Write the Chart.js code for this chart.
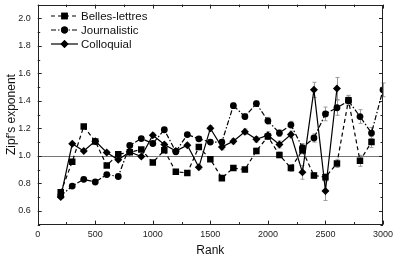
<!DOCTYPE html>
<html>
<head>
<meta charset="utf-8">
<script src="https://cdn.jsdelivr.net/npm/chart.js@4.4.1/dist/chart.umd.min.js"></script>
<style>
  html, body { margin: 0; padding: 0; background: #fff; }
  canvas { display: block; }
</style>
</head>
<body>
<canvas id="zipf" width="393" height="254"></canvas>
<script>
/* Zipf's exponent vs rank, three text styles */

const ranks = [200, 300, 400, 500, 600, 700, 800, 900, 1000, 1100, 1200, 1300, 1400, 1500, 1600,
  1700, 1800, 1900, 2000, 2100, 2200, 2300, 2400, 2500, 2600, 2700, 2800, 2900, 3000];

const bellesLettres = [0.735, 0.957, 1.214, 1.105, 0.93, 1.012, 1.026, 1.046, 0.952, 1.04, 0.885, 0.876, 1.065, 0.976, 0.838,
  0.912, 0.9, 1.036, 1.14, 1.007, 0.912, 1.04, 0.857, 0.845, 0.945, 1.405, 0.964, 1.10, null];
const bellesErr = [0.01, 0.01, 0.01, 0.01, 0.01, 0.01, 0.01, 0.01, 0.012, 0.012, 0.012, 0.012, 0.015, 0.015, 0.015,
  0.015, 0.015, 0.02, 0.02, 0.02, 0.025, 0.025, 0.02, 0.025, 0.03, 0.035, 0.04, 0.04, null];

const journalistic = [0.71, 0.78, 0.829, 0.81, 0.864, 0.85, 1.076, 1.126, 1.09, 1.19, 1.03, 1.155, 1.124, 1.10, 1.10,
  1.365, 1.286, 1.38, 1.255, 1.166, 1.226, 1.06, 1.13, 1.305, 1.35, 1.40, 1.286, 1.166, 1.48];
const journalisticErr = [0.01, 0.01, 0.01, 0.01, 0.01, 0.01, 0.01, 0.012, 0.012, 0.012, 0.012, 0.015, 0.015, 0.015, 0.015,
  0.02, 0.02, 0.02, 0.025, 0.025, 0.025, 0.03, 0.03, 0.05, 0.055, 0.035, 0.05, 0.04, 0.05];

const colloquial = [0.70, 1.088, 1.036, 1.107, 1.024, 0.971, 1.029, 0.995, 1.15, 1.083, 1.035, 1.078, 0.917, 1.20, 1.064,
  1.107, 1.175, 1.12, 1.15, 1.083, 1.155, 0.88, 1.48, 0.745, 1.49, null, null, null, null];
const colloquialErr = [0.01, 0.01, 0.01, 0.01, 0.01, 0.012, 0.012, 0.012, 0.015, 0.015, 0.015, 0.015, 0.015, 0.02, 0.02,
  0.02, 0.02, 0.02, 0.025, 0.025, 0.025, 0.05, 0.055, 0.07, 0.08, null, null, null, null];

const xMajorTicks = [0, 500, 1000, 1500, 2000, 2500, 3000];
const xMinorTicks = [250, 750, 1250, 1750, 2250, 2750];
const yMajorTicks = [0.6, 0.8, 1.0, 1.2, 1.4, 1.6, 1.8, 2.0];
const yMinorTicks = [0.5, 0.7, 0.9, 1.1, 1.3, 1.5, 1.7, 1.9, 2.1];
const refLevel = 1.0;

const FONT = "'Liberation Sans', Arial, Helvetica, sans-serif";
const toPoints = vals => ranks.map((r, i) => ({ x: r, y: vals[i] }));

const series = [
  { label: 'Belles-lettres', data: bellesLettres, err: bellesErr, dash: [4, 3], style: 'rect', r: 4.6 },
  { label: 'Journalistic', data: journalistic, err: journalisticErr, dash: [5, 2, 1.5, 2], style: 'circle', r: 3.4 },
  { label: 'Colloquial', data: colloquial, err: colloquialErr, dash: [], style: 'rectRot', r: 4.0 },
];

// gray error bars under the markers
const errorBars = {
  id: 'errorBars',
  beforeDatasetsDraw(chart) {
    const { ctx, scales: { y } } = chart;
    ctx.save();
    ctx.strokeStyle = '#9a9a9a';
    ctx.lineWidth = 1;
    chart.data.datasets.forEach((ds, di) => {
      const meta = chart.getDatasetMeta(di);
      meta.data.forEach((pt, i) => {
        const v = ds.data[i].y, e = ds.errors[i];
        if (v == null || e == null) return;
        const yt = y.getPixelForValue(v + e), yb = y.getPixelForValue(v - e);
        const x = Math.round(pt.x) + 0.5;
        ctx.beginPath();
        ctx.moveTo(x, yt); ctx.lineTo(x, yb);
        ctx.moveTo(x - 2, yt); ctx.lineTo(x + 2, yt);
        ctx.moveTo(x - 2, yb); ctx.lineTo(x + 2, yb);
        ctx.stroke();
      });
    });
    // reference line at 1.0
    const yr = Math.round(y.getPixelForValue(refLevel)) + 0.5;
    ctx.strokeStyle = '#777';
    ctx.beginPath();
    ctx.moveTo(chart.chartArea.left, yr); ctx.lineTo(chart.chartArea.right, yr);
    ctx.stroke();
    ctx.restore();
  }
};

// box with inward ticks on all four sides, plus the legend
const frame = {
  id: 'frame',
  afterDraw(chart) {
    const { ctx, chartArea: a, scales: { x, y } } = chart;
    ctx.save();
    ctx.strokeStyle = '#222';
    ctx.lineWidth = 1;
    ctx.strokeRect(Math.round(a.left) + 0.5, Math.round(a.top) + 0.5,
      Math.round(a.right - a.left) - 1, Math.round(a.bottom - a.top) - 1);
    ctx.beginPath();
    const xt = (v, len) => {
      const px = Math.round(x.getPixelForValue(v)) + 0.5;
      ctx.moveTo(px, a.bottom); ctx.lineTo(px, a.bottom - len);
      ctx.moveTo(px, a.top); ctx.lineTo(px, a.top + len);
    };
    const yt = (v, len) => {
      const py = Math.round(y.getPixelForValue(v)) + 0.5;
      ctx.moveTo(a.left, py); ctx.lineTo(a.left + len, py);
      ctx.moveTo(a.right, py); ctx.lineTo(a.right - len, py);
    };
    xMajorTicks.forEach(v => xt(v, 4));
    xMinorTicks.forEach(v => xt(v, 2.5));
    yMajorTicks.forEach(v => yt(v, 4));
    yMinorTicks.forEach(v => yt(v, 2.5));
    ctx.stroke();

    // legend
    ctx.font = '11.5px ' + FONT;
    ctx.textBaseline = 'middle';
    chart.data.datasets.forEach((ds, i) => {
      const ly = 16 + i * 14;
      ctx.strokeStyle = '#000';
      ctx.lineWidth = 1.2;
      ctx.setLineDash(ds.borderDash);
      ctx.beginPath();
      ctx.moveTo(51, ly); ctx.lineTo(78, ly);
      ctx.stroke();
      ctx.setLineDash([]);
      ctx.fillStyle = '#000';
      Chart.helpers.drawPoint(ctx, { pointStyle: ds.pointStyle, radius: ds.pointRadius, borderWidth: 0 }, 64.5, ly);
      ctx.fill();
      ctx.fillStyle = '#111';
      ctx.fillText(ds.label, 81, ly + 0.5);
    });
    ctx.restore();
  }
};

new Chart(document.getElementById('zipf'), {
  type: 'line',
  data: {
    datasets: series.map(s => ({
      label: s.label,
      data: toPoints(s.data),
      errors: s.err,
      borderColor: '#000',
      borderWidth: 1.2,
      borderDash: s.dash,
      backgroundColor: '#000',
      pointStyle: s.style,
      pointRadius: s.r,
      pointBorderWidth: 0,
      pointBackgroundColor: '#000',
      tension: 0,
      spanGaps: false,
    }))
  },
  options: {
    responsive: false,
    animation: false,
    devicePixelRatio: 1,
    layout: { padding: { top: 2, right: 10, left: 0, bottom: 0 } },
    plugins: { legend: { display: false }, tooltip: { enabled: false } },
    scales: {
      x: {
        type: 'linear', min: 0, max: 3000,
        grid: { display: false, drawTicks: false },
        border: { display: false },
        afterBuildTicks: s => { s.ticks = xMajorTicks.map(v => ({ value: v })); },
        afterFit: s => { s.height = 29.4; s.paddingLeft = 0; s.paddingRight = 0; },
        ticks: { color: '#222', padding: 5, maxRotation: 0, autoSkip: false, font: { family: FONT, size: 9 }, callback: v => String(v) },
        title: { display: true, text: 'Rank', color: '#111', font: { family: FONT, size: 12 }, padding: { top: 0, bottom: -4 } }
      },
      y: {
        type: 'linear', min: 0.5, max: 2.1,
        grid: { display: false, drawTicks: false },
        border: { display: false },
        afterBuildTicks: s => { s.ticks = yMajorTicks.map(v => ({ value: v })); },
        afterFit: s => { s.width = 37.7; s.paddingTop = 0; s.paddingBottom = 0; },
        ticks: { color: '#222', padding: 7, autoSkip: false, font: { family: FONT, size: 9 }, callback: v => v.toFixed(1) },
        title: { display: true, text: "Zipf's exponent", color: '#111', font: { family: FONT, size: 12 }, padding: { top: 4, bottom: 0 } }
      }
    }
  },
  plugins: [errorBars, frame]
});
</script>
</body>
</html>
